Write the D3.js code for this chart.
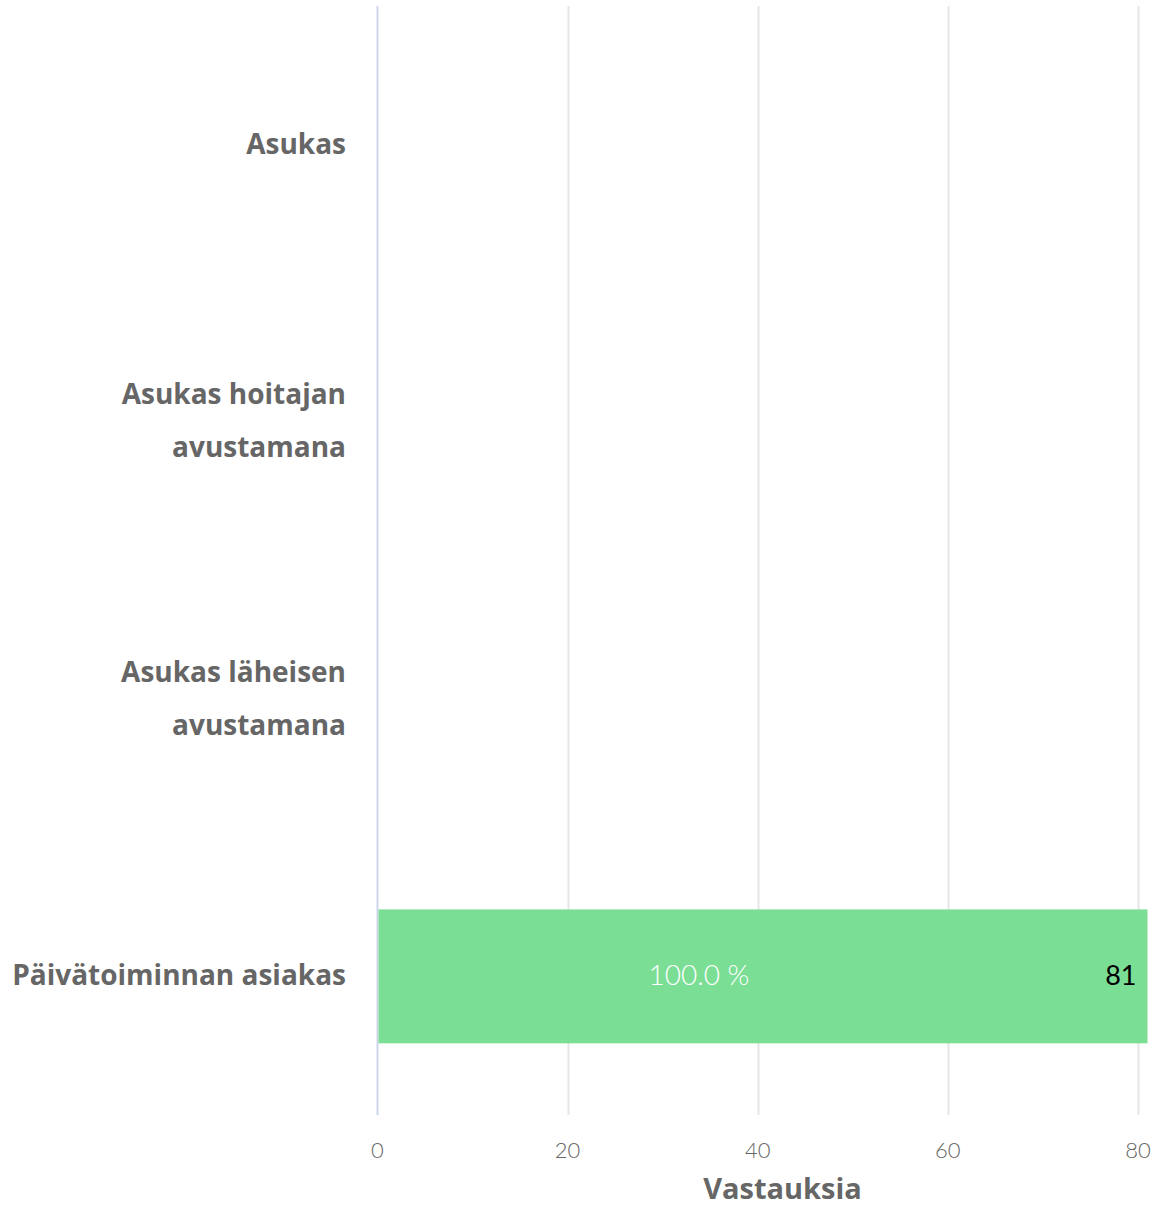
<!DOCTYPE html>
<html><head><meta charset="utf-8">
<script src="https://cdn.jsdelivr.net/npm/d3@7"></script>
<style>body{margin:0;background:#fff}svg{display:block}</style>
</head><body><svg id="c" width="1162" height="1207"></svg>
<script>
const categories = [["Asukas"],["Asukas hoitajan","avustamana"],["Asukas läheisen","avustamana"],["Päivätoiminnan asiakas"]];
const values = [0,0,0,81];
const percents = ["","","","100.0 %"];
const ticks = [0,20,40,60,80];
const axisTitle = "Vastauksia";

const svg = d3.select("#c");
const F = "Lato, 'Open Sans', sans-serif";
const FB = "'Open Sans', Lato, sans-serif";
const x = d3.scaleLinear().domain([0,81]).range([377.5,1147.5]);
const y = d3.scaleBand().domain(d3.range(categories.length)).range([6,1115]).padding(0);
const bh = y.step()*0.483;

// grid
svg.append("g").selectAll("line").data(ticks.filter(t=>t>0)).join("line")
  .attr("x1",d=>Math.round(x(d))+0.5).attr("x2",d=>Math.round(x(d))+0.5)
  .attr("y1",6).attr("y2",1115).attr("stroke","#e6e6e6").attr("stroke-width",2);
// axis line
svg.append("line").attr("x1",377.5).attr("x2",377.5).attr("y1",6).attr("y2",1115)
  .attr("stroke","#ccd6eb").attr("stroke-width",2);

// bars
const bars = svg.append("g").selectAll("g").data(values.map((v,i)=>({v,i}))).join("g");
bars.filter(d=>d.v>0).append("rect")
  .attr("x",x(0)+1).attr("y",d=>y(d.i)+(y.step()-bh)/2)
  .attr("width",d=>x(d.v)-x(0)-1).attr("height",bh).attr("fill","#7ade94");
bars.filter(d=>d.v>0).append("text")
  .attr("x",d=>x(d.v*0.42)-2).attr("y",d=>y(d.i)+y.step()/2+9)
  .attr("text-anchor","middle").attr("fill","#fff").attr("font-family",F)
  .attr("font-size",28).attr("font-weight",300).text(d=>percents[d.i]);
bars.filter(d=>d.v>0).append("text")
  .attr("x",d=>x(d.v)-11).attr("y",d=>y(d.i)+y.step()/2+9)
  .attr("text-anchor","end").attr("fill","#000").attr("font-family",F)
  .attr("font-size",27).text(d=>d.v);

// category labels
const cl = svg.append("g").selectAll("text").data(categories).join("text")
  .attr("text-anchor","end").attr("fill","#666").attr("font-family",FB)
  .attr("font-weight",700).attr("font-size",28);
cl.each(function(lines,i){
  const cy = y(i)+y.step()/2;
  const lh = 53;
  const t = d3.select(this);
  lines.forEach((l,j)=>{
    t.append("tspan").attr("x",346).attr("y",cy+9+(j-(lines.length-1)/2)*lh).text(l);
  });
});

// tick labels
svg.append("g").selectAll("text").data(ticks).join("text")
  .attr("x",d=>x(d)).attr("y",1158).attr("text-anchor","middle")
  .attr("fill","#666").attr("font-family",F).attr("font-size",22).attr("font-weight",300)
  .text(d=>d);
svg.append("text").attr("x",(x(0)+x(81))/2+20).attr("y",1199).attr("text-anchor","middle")
  .attr("fill","#666").attr("font-family",FB).attr("font-weight",700).attr("font-size",29)
  .text(axisTitle);
</script></body></html>
